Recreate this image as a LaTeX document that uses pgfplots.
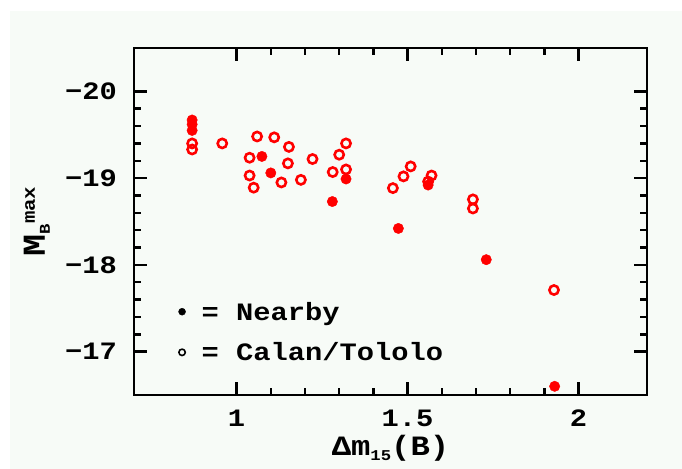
\documentclass[border=0pt]{standalone}
\usepackage{fontspec}
\setmainfont{Liberation Mono}[FakeStretch=1.15]
\usepackage{pgfplots}
\pgfplotsset{compat=1.18}
\usetikzlibrary{calc, backgrounds}
\definecolor{bgpale}{RGB}{247,251,247}
\definecolor{ptred}{RGB}{255,0,0}
\newcommand{\fs}[1]{\fontsize{#1}{#1}\selectfont\bfseries}

\begin{document}
\begin{tikzpicture}
\begin{axis}[
    name=ax,
    scale only axis,
    width=513pt, height=347pt,
    xmin=0.7, xmax=2.2,
    ymin=-20.5, ymax=-16.5,
    y dir=reverse,
    xtick={1,1.5,2}, xticklabels={1,1.5,2},
    ytick={-20,-19,-18,-17}, yticklabels={−20,−19,−18,−17},
    minor x tick num=4, minor y tick num=4,
    tick align=inside,
    major tick length=13pt, minor tick length=7pt,
    axis line style={line width=2.5pt},
    every tick/.append style={black, line width=2.5pt},
    xticklabel style={font=\fs{25}, inner sep=0pt, anchor=north, yshift=-15pt},
    yticklabel style={font=\fs{25}, inner sep=0pt, anchor=east, xshift=-17pt},
    xlabel={Δm\raisebox{-5pt}{\fs{15}15}(B)},
    xlabel style={font=\fs{28}, at={(axis description cs:0.5,-0.115)}, anchor=north, inner sep=0pt},
    ylabel={M\raisebox{-5pt}{\fs{15}B}\raisebox{10pt}{\fs{18}max}},
    ylabel style={font=\fs{32}, at={(axis description cs:-0.1637,0.5)}, rotate=0, anchor=south, inner sep=0pt},
    legend image code/.code={\draw[#1] plot coordinates {(0pt,0pt)};},
    legend cell align=left,
    legend style={draw=none, fill=none, font=\fs{25}, at={(axis cs:0.821,-17.226)}, anchor=west, row sep=17pt,
        /tikz/every odd column/.append style={column sep=14pt}},
]
    % nearby sample (filled)
    \addplot[only marks, mark=*, ptred, mark size=5.2pt, forget plot] coordinates {
        (0.870,-19.67) (0.870,-19.62) (0.870,-19.55)
        (1.074,-19.25) (1.100,-19.06) (1.320,-18.99)
        (1.280,-18.73) (1.560,-18.92) (1.473,-18.42)
        (1.730,-18.06) (1.930,-16.60)
    };
    % Calan/Tololo sample (open)
    \addplot[only marks, mark=o, ptred, mark size=4.6pt, line width=2.6pt, forget plot] coordinates {
        (0.870,-19.40) (0.870,-19.33) (0.958,-19.40)
        (1.060,-19.48) (1.110,-19.47) (1.038,-19.235)
        (1.038,-19.03) (1.050,-18.89) (1.153,-19.36)
        (1.150,-19.17) (1.222,-19.22) (1.131,-18.95)
        (1.188,-18.98) (1.320,-19.40) (1.300,-19.27)
        (1.281,-19.07) (1.320,-19.10) (1.457,-18.885)
        (1.488,-19.02) (1.509,-19.135) (1.570,-19.03)
        (1.560,-18.96) (1.691,-18.755) (1.691,-18.65)
        (1.928,-17.71)
    };
    \addlegendimage{only marks, mark=*, black, mark size=3.5pt}
    \addlegendentry{= Nearby}
    \addlegendimage{only marks, mark=o, black, mark size=3.2pt, line width=1.6pt}
    \addlegendentry{= Calan/Tololo}
\end{axis}
\begin{scope}[on background layer]
    \fill[white] ($(ax.south west)+(-134pt,-74pt)$) rectangle ($(ax.north east)+(35pt,48pt)$);
    \fill[bgpale] ($(ax.south west)+(-124pt,-74pt)$) rectangle ($(ax.north east)+(35pt,37pt)$);
\end{scope}
\end{tikzpicture}
\end{document}
